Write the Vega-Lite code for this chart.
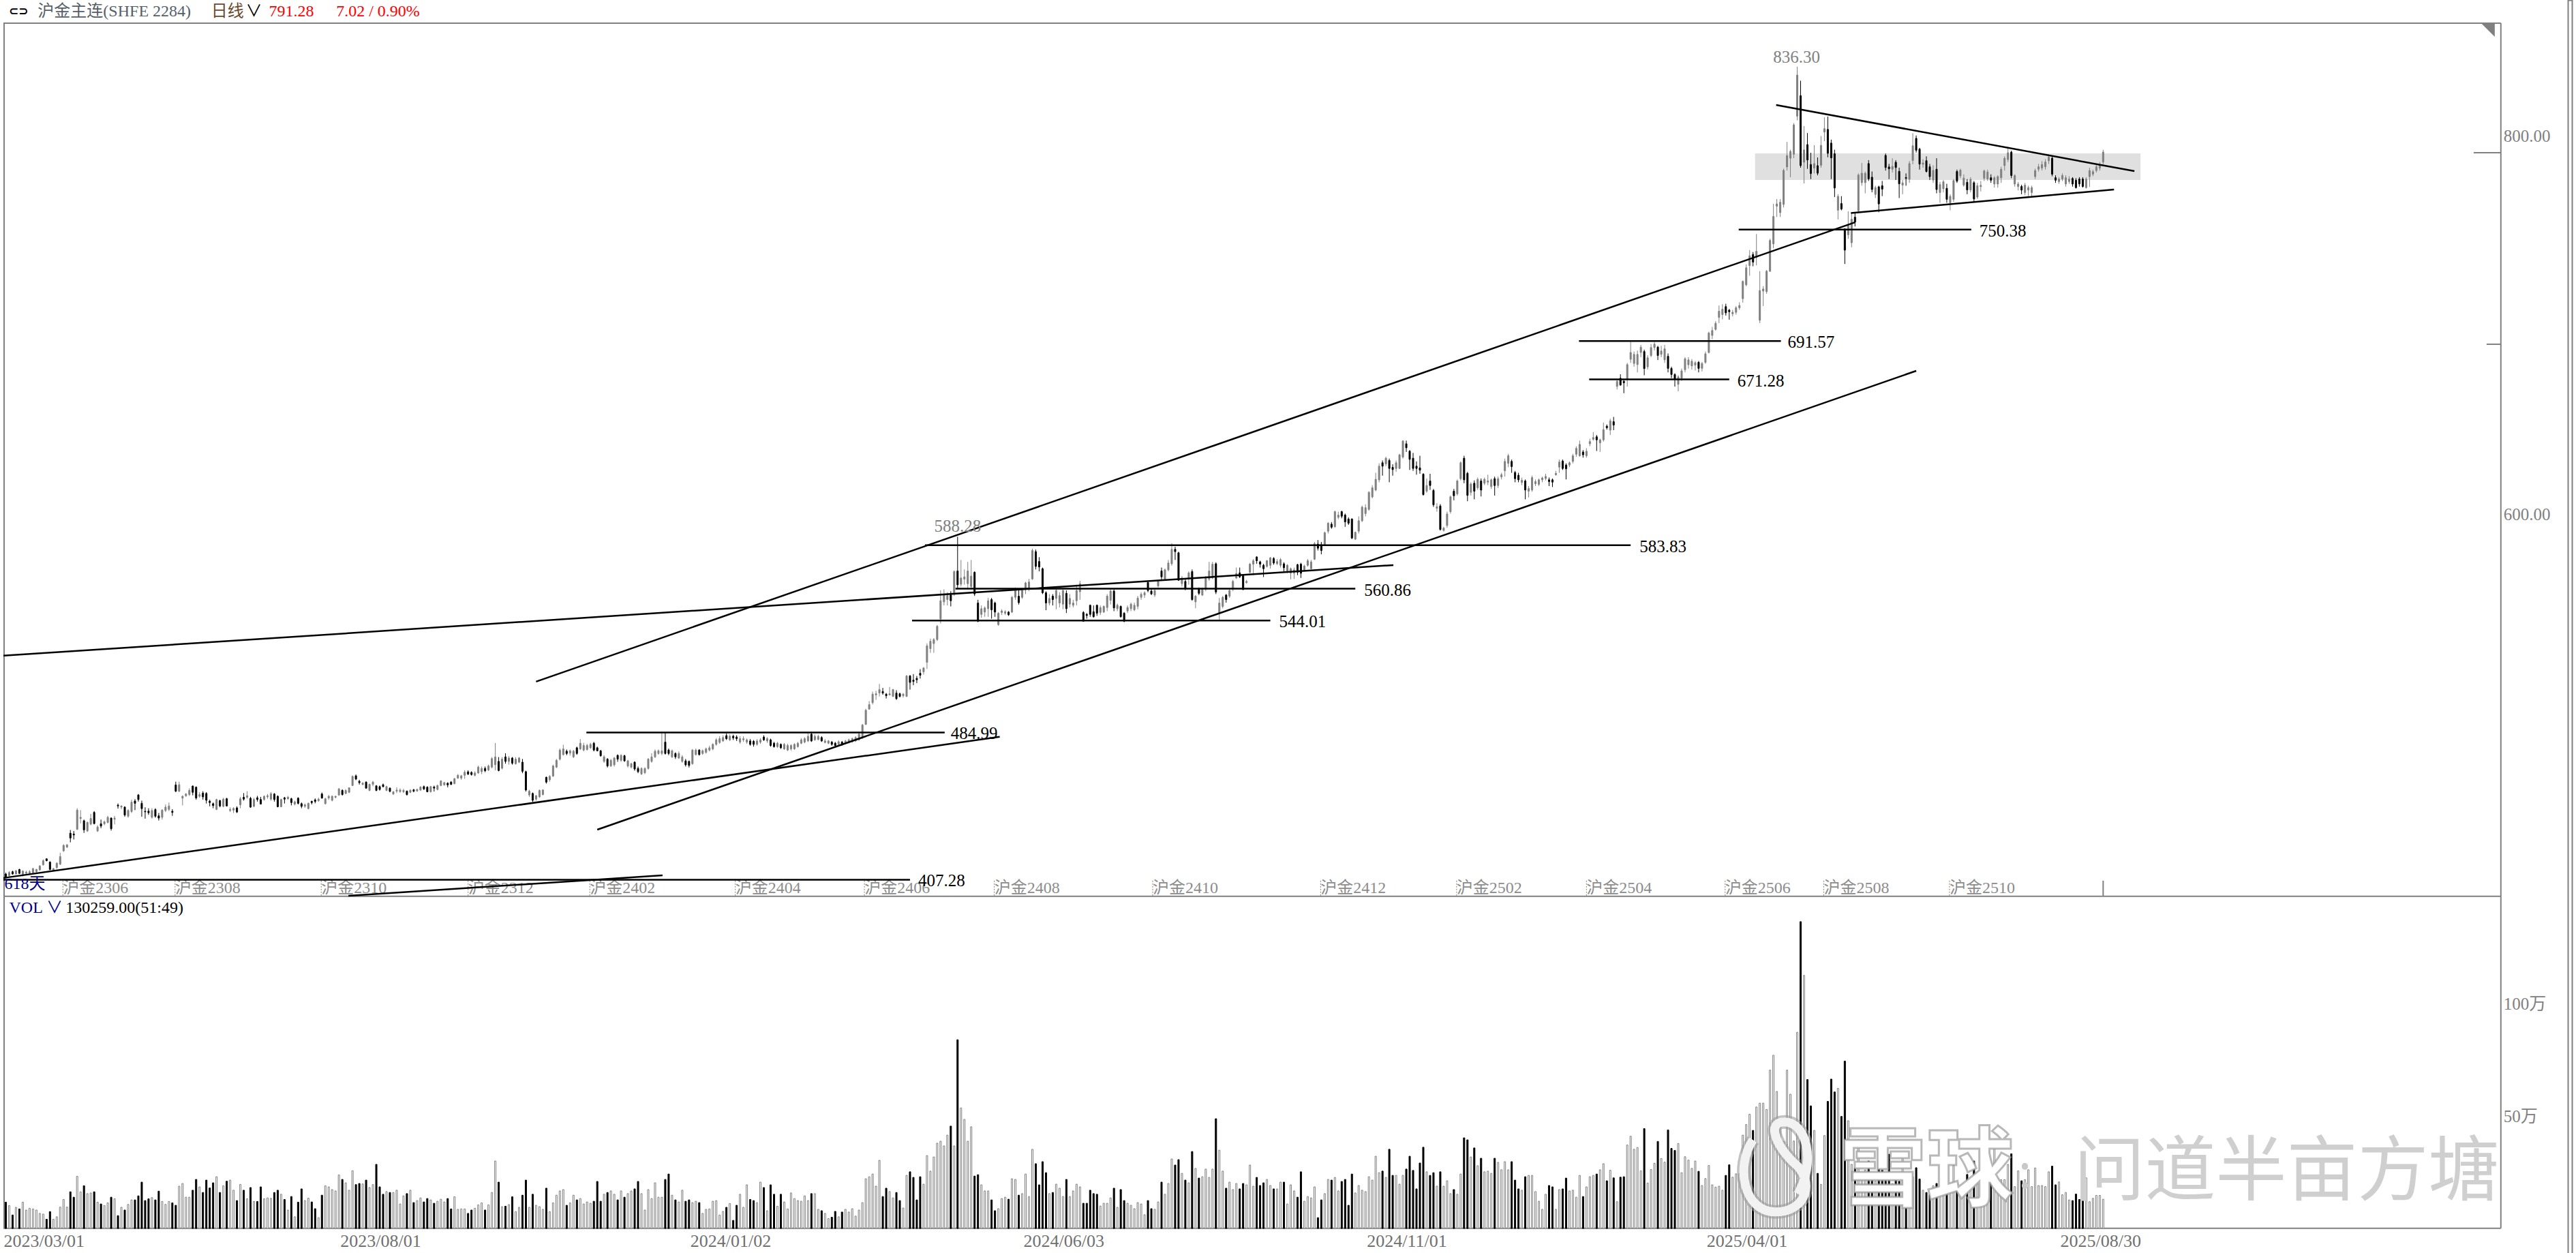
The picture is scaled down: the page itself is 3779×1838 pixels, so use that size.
{"$schema":"https://vega.github.io/schema/vega-lite/v6.json","width":3779,"height":1838,"padding":0,"autosize":"none","background":"#ffffff","config":{"view":{"stroke":null},"axis":{"disable":true},"legend":{"disable":true},"text":{"font":"Liberation Serif, Noto Sans CJK SC"}},
"datasets":{
"bars":[
{"i":0,"o":410.3,"c":408.6,"h":411,"l":408,"v":11.7},{"i":1,"o":409.5,"c":411.1,"h":411.8,"l":409,"v":10.2},{"i":2,"o":411.5,"c":410.3,"h":412,"l":410,"v":6},{"i":3,"o":410.3,"c":411.9,"h":412.5,"l":410,"v":9.4},{"i":4,"o":412.7,"c":410.6,"h":413,"l":410.4,"v":8.7},{"i":5,"o":410.1,"c":411.8,"h":412.3,"l":409,"v":11.7},{"i":6,"o":410.7,"c":411.3,"h":412,"l":410,"v":8.2},{"i":7,"o":410.7,"c":411.5,"h":412.3,"l":410,"v":9},{"i":8,"o":411,"c":413.1,"h":413.6,"l":410.4,"v":8.7},{"i":9,"o":411.5,"c":412.7,"h":413,"l":411,"v":8.2},
{"i":10,"o":412.5,"c":414.5,"h":415,"l":412,"v":6.7},{"i":11,"o":415.2,"c":417.3,"h":418,"l":414.7,"v":6.4},{"i":12,"o":418.3,"c":417.3,"h":418.6,"l":417,"v":4.1},{"i":13,"o":416.6,"c":412.7,"h":417,"l":412.3,"v":7.5},{"i":14,"o":412.3,"c":413.1,"h":413.5,"l":412,"v":4.1},{"i":15,"o":413.7,"c":416,"h":416.5,"l":413,"v":5.2},{"i":16,"o":415.5,"c":419.5,"h":421.5,"l":415,"v":9.5},{"i":17,"o":422.5,"c":425.4,"h":426,"l":422,"v":12.9},{"i":18,"o":424.5,"c":425.7,"h":426,"l":424,"v":9.5},{"i":19,"o":431.8,"c":429.3,"h":433.5,"l":427,"v":16.3},
{"i":20,"o":431.4,"c":430.9,"h":433,"l":428.5,"v":13.9},{"i":21,"o":433.9,"c":444,"h":445,"l":433.5,"v":23.2},{"i":22,"o":439.6,"c":440.2,"h":444,"l":437,"v":16.3},{"i":23,"o":438.4,"c":433.6,"h":439,"l":432,"v":19},{"i":24,"o":433,"c":437.5,"h":438,"l":432.5,"v":15.5},{"i":25,"o":436.6,"c":439.6,"h":442,"l":436,"v":15.8},{"i":26,"o":442.8,"c":436.9,"h":443.5,"l":436.5,"v":16.3},{"i":27,"o":433,"c":435.1,"h":436,"l":432.5,"v":11.7},{"i":28,"o":436.8,"c":435.6,"h":439,"l":434.5,"v":10.9},{"i":29,"o":436.8,"c":437.8,"h":438.5,"l":436,"v":10.2},
{"i":30,"o":437.5,"c":440.2,"h":441,"l":437,"v":11.4},{"i":31,"o":439.8,"c":434.2,"h":440.2,"l":433.2,"v":13.9},{"i":32,"o":439.2,"c":439.8,"h":441,"l":436.5,"v":13.2},{"i":33,"o":446.6,"c":446.2,"h":447.5,"l":444.8,"v":5.7},{"i":34,"o":445.6,"c":446.2,"h":446.5,"l":444.5,"v":9.4},{"i":35,"o":445.6,"c":441.4,"h":446,"l":440.5,"v":8.2},{"i":36,"o":440.8,"c":443.8,"h":444.5,"l":440,"v":10.7},{"i":37,"o":443.2,"c":448.2,"h":449.5,"l":442.5,"v":12.7},{"i":38,"o":448.8,"c":447.6,"h":449.8,"l":444,"v":12.7},{"i":39,"o":452,"c":449.6,"h":452.5,"l":448.5,"v":14.5},
{"i":40,"o":447.6,"c":444.8,"h":449,"l":440.5,"v":20.6},{"i":41,"o":443.4,"c":443.1,"h":445.5,"l":439.5,"v":12.4},{"i":42,"o":443.5,"c":442.6,"h":445,"l":441.5,"v":13.2},{"i":43,"o":440.2,"c":443.8,"h":445,"l":439.5,"v":13.7},{"i":44,"o":444.3,"c":440.8,"h":445,"l":440,"v":12.7},{"i":45,"o":441,"c":439.8,"h":442.5,"l":438.5,"v":16.6},{"i":46,"o":440.2,"c":444,"h":444.5,"l":439,"v":12},{"i":47,"o":443.8,"c":445.6,"h":447,"l":443,"v":10.7},{"i":48,"o":444.4,"c":446.2,"h":448,"l":443.5,"v":12},{"i":49,"o":443.4,"c":442.8,"h":444.5,"l":441,"v":11.4},
{"i":50,"o":457.3,"c":454,"h":459,"l":453.5,"v":10.3},{"i":51,"o":454,"c":457.4,"h":459,"l":453.5,"v":18.8},{"i":52,"o":450.3,"c":451.3,"h":451.8,"l":446.5,"v":20},{"i":53,"o":451.6,"c":452.5,"h":453,"l":451,"v":13.9},{"i":54,"o":452.2,"c":454.4,"h":455.5,"l":451.5,"v":13.9},{"i":55,"o":456.7,"c":453.4,"h":457,"l":451.8,"v":17},{"i":56,"o":456.1,"c":450.4,"h":456.5,"l":449.5,"v":21.8},{"i":57,"o":451.3,"c":452.2,"h":453.5,"l":450.5,"v":18.5},{"i":58,"o":453,"c":451,"h":454,"l":449.5,"v":16},{"i":59,"o":452.8,"c":449.2,"h":453.5,"l":447.5,"v":21.5},
{"i":60,"o":448.7,"c":448,"h":449.5,"l":446,"v":18},{"i":61,"o":447.4,"c":446.4,"h":448,"l":445,"v":20.3},{"i":62,"o":444.4,"c":449.6,"h":450,"l":444,"v":23},{"i":63,"o":449,"c":446.2,"h":449.5,"l":445.5,"v":16},{"i":64,"o":446,"c":449.8,"h":450.5,"l":445.5,"v":19},{"i":65,"o":450,"c":446.2,"h":450.5,"l":446,"v":21},{"i":66,"o":443.8,"c":444.4,"h":445.5,"l":443,"v":21.5},{"i":67,"o":444,"c":444.9,"h":445.5,"l":442.5,"v":17},{"i":68,"o":445.2,"c":443,"h":446,"l":442.5,"v":12.4},{"i":69,"o":446.8,"c":450,"h":451,"l":445,"v":19.6},
{"i":70,"o":450.8,"c":449.8,"h":453,"l":449,"v":17},{"i":71,"o":450.8,"c":451.6,"h":454,"l":450,"v":13.2},{"i":72,"o":450.2,"c":445.6,"h":451,"l":445.2,"v":18.2},{"i":73,"o":446,"c":449.6,"h":450.5,"l":445.5,"v":12},{"i":74,"o":450.5,"c":449.6,"h":451.5,"l":448.5,"v":12},{"i":75,"o":449.6,"c":447.2,"h":451,"l":447,"v":18.5},{"i":76,"o":449.6,"c":451.3,"h":451.8,"l":449,"v":13.2},{"i":77,"o":451,"c":451.6,"h":452.5,"l":450,"v":13.6},{"i":78,"o":449.8,"c":452.7,"h":453.5,"l":449,"v":13.4},{"i":79,"o":452.5,"c":449.6,"h":453,"l":448.5,"v":16},
{"i":80,"o":451.3,"c":445.8,"h":451.8,"l":445.5,"v":17},{"i":81,"o":445.8,"c":449.6,"h":450,"l":445.5,"v":15.2},{"i":82,"o":450.5,"c":449.8,"h":451,"l":447.5,"v":12.9},{"i":83,"o":450,"c":450.8,"h":451.5,"l":449.5,"v":8.2},{"i":84,"o":450,"c":448,"h":450.5,"l":446.5,"v":14.2},{"i":85,"o":447.2,"c":448.4,"h":449,"l":446.5,"v":5.2},{"i":86,"o":450.3,"c":447.6,"h":450.8,"l":447,"v":11.7},{"i":87,"o":447.4,"c":446,"h":448,"l":445,"v":17.6},{"i":88,"o":446,"c":446.8,"h":447.5,"l":445.2,"v":12.4},{"i":89,"o":444.8,"c":447.6,"h":448,"l":444.4,"v":13.5},
{"i":90,"o":448.6,"c":448,"h":449,"l":447,"v":11.8},{"i":91,"o":449.4,"c":448.6,"h":450.2,"l":447.6,"v":8.8},{"i":92,"o":449,"c":449.8,"h":450.5,"l":448.4,"v":4.8},{"i":93,"o":452.5,"c":450.4,"h":453.3,"l":450,"v":14.8},{"i":94,"o":447.4,"c":450,"h":450.5,"l":447,"v":19},{"i":95,"o":450.4,"c":451.3,"h":452,"l":449.5,"v":18.5},{"i":96,"o":449.2,"c":451.3,"h":451.8,"l":448.6,"v":17.3},{"i":97,"o":450.8,"c":451.3,"h":451.6,"l":450.2,"v":16.7},{"i":98,"o":452,"c":455.2,"h":455.7,"l":451.5,"v":23.8},{"i":99,"o":454.4,"c":452.2,"h":455,"l":451.7,"v":21.8},
{"i":100,"o":452.8,"c":454.4,"h":455,"l":452.4,"v":20.3},{"i":101,"o":453.4,"c":455.8,"h":456,"l":453,"v":17},{"i":102,"o":457,"c":461.8,"h":462.3,"l":456.7,"v":25.7},{"i":103,"o":462.1,"c":460.4,"h":462.8,"l":459.8,"v":19.5},{"i":104,"o":459.2,"c":458.5,"h":460,"l":457.5,"v":20},{"i":105,"o":457.6,"c":458.2,"h":458.8,"l":457,"v":19.8},{"i":106,"o":458.8,"c":455.6,"h":459.2,"l":455.2,"v":21.5},{"i":107,"o":454.4,"c":457.6,"h":458,"l":454,"v":18.2},{"i":108,"o":457.6,"c":458.8,"h":459.4,"l":456.6,"v":19.5},{"i":109,"o":456.8,"c":454.4,"h":457.2,"l":454,"v":28.5},
{"i":110,"o":456.4,"c":454.9,"h":457,"l":454.3,"v":18.5},{"i":111,"o":457.4,"c":456.4,"h":458,"l":456,"v":15.2},{"i":112,"o":454.4,"c":456.4,"h":456.9,"l":454,"v":16.4},{"i":113,"o":455.6,"c":453.9,"h":456,"l":453.4,"v":16},{"i":114,"o":452.5,"c":453.7,"h":454,"l":452,"v":16},{"i":115,"o":454,"c":454.6,"h":456,"l":453,"v":17},{"i":116,"o":453.8,"c":454.6,"h":455.5,"l":453.2,"v":10.9},{"i":117,"o":453.7,"c":454.4,"h":455.2,"l":453,"v":14.5},{"i":118,"o":454,"c":452.2,"h":454.4,"l":451.7,"v":15.5},{"i":119,"o":453.4,"c":454.5,"h":455,"l":453,"v":17},
{"i":120,"o":454.7,"c":454,"h":455.2,"l":453.4,"v":11.5},{"i":121,"o":454.1,"c":454.9,"h":455.3,"l":453.7,"v":12.4},{"i":122,"o":454.6,"c":456.2,"h":456.6,"l":454.1,"v":13.6},{"i":123,"o":456.4,"c":455.2,"h":457,"l":454.6,"v":11.8},{"i":124,"o":456.1,"c":453.7,"h":456.6,"l":453.4,"v":13.3},{"i":125,"o":453.7,"c":456.4,"h":456.8,"l":453.3,"v":12.7},{"i":126,"o":456.2,"c":455.6,"h":456.9,"l":453.8,"v":11.2},{"i":127,"o":454.9,"c":457,"h":457.4,"l":454.4,"v":12.1},{"i":128,"o":457,"c":459.4,"h":459.8,"l":456.6,"v":13},{"i":129,"o":457.3,"c":458.5,"h":459,"l":456.9,"v":11.8},
{"i":130,"o":458.2,"c":457.3,"h":458.7,"l":456,"v":13.3},{"i":131,"o":458.8,"c":457.6,"h":459.3,"l":457.2,"v":8.7},{"i":132,"o":458,"c":460.6,"h":461,"l":457.6,"v":14.1},{"i":133,"o":460.9,"c":462.4,"h":463,"l":460.5,"v":8.5},{"i":134,"o":460.9,"c":462.1,"h":462.6,"l":460,"v":8.7},{"i":135,"o":462.4,"c":464,"h":465,"l":460.5,"v":8.7},{"i":136,"o":464.2,"c":463,"h":465,"l":462.5,"v":6.7},{"i":137,"o":463.9,"c":462.8,"h":464.5,"l":462.2,"v":8.2},{"i":138,"o":462.4,"c":463.6,"h":464.5,"l":461.8,"v":9},{"i":139,"o":463.6,"c":466.7,"h":467.5,"l":463.2,"v":10.5},
{"i":140,"o":464.3,"c":466,"h":467,"l":463,"v":11.4},{"i":141,"o":466,"c":464.8,"h":467,"l":464,"v":8.2},{"i":142,"o":465.2,"c":467.3,"h":468,"l":464.6,"v":10.5},{"i":143,"o":466.7,"c":471.2,"h":472,"l":466,"v":16},{"i":144,"o":467.9,"c":472.1,"h":479.4,"l":465,"v":30},{"i":145,"o":469.7,"c":464.9,"h":472,"l":464.5,"v":20.6},{"i":146,"o":466.1,"c":470.9,"h":472,"l":465.5,"v":9.7},{"i":147,"o":472.1,"c":469.7,"h":474,"l":468.5,"v":9.9},{"i":148,"o":469.7,"c":471.5,"h":472.5,"l":468,"v":10.6},{"i":149,"o":471.5,"c":468.8,"h":472,"l":468,"v":14.1},
{"i":150,"o":468.5,"c":470.9,"h":472,"l":468,"v":7.5},{"i":151,"o":469.3,"c":471.5,"h":472,"l":468.8,"v":9.4},{"i":152,"o":469.3,"c":464.5,"h":471,"l":463.5,"v":14.8},{"i":153,"o":464.3,"c":454.6,"h":464.8,"l":453.8,"v":21.5},{"i":154,"o":452,"c":454,"h":454.7,"l":451,"v":9.4},{"i":155,"o":452.8,"c":449.2,"h":453.3,"l":448.3,"v":15.2},{"i":156,"o":449.8,"c":451.6,"h":452,"l":449,"v":10.3},{"i":157,"o":451,"c":454.4,"h":454.9,"l":450.5,"v":9.7},{"i":158,"o":452.2,"c":454.6,"h":455,"l":451.8,"v":8.5},{"i":159,"o":461.3,"c":458.8,"h":461.7,"l":458,"v":17.9},
{"i":160,"o":460,"c":461.8,"h":462.5,"l":459,"v":7.5},{"i":161,"o":462,"c":467.3,"h":468,"l":461.5,"v":11.4},{"i":162,"o":466.7,"c":470.3,"h":471,"l":466.2,"v":14.8},{"i":163,"o":470.9,"c":475.7,"h":476.5,"l":470.2,"v":16.7},{"i":164,"o":473.3,"c":476.3,"h":478.5,"l":472.8,"v":17.3},{"i":165,"o":475.1,"c":473.9,"h":476,"l":473,"v":10.3},{"i":166,"o":474.1,"c":475.3,"h":476,"l":472.8,"v":11.4},{"i":167,"o":472.1,"c":475.1,"h":475.8,"l":471.5,"v":14.8},{"i":168,"o":476.9,"c":473.9,"h":477.5,"l":473.2,"v":12.7},{"i":169,"o":476.3,"c":479.3,"h":481.5,"l":475.8,"v":13.3},
{"i":170,"o":475.7,"c":478.1,"h":479.5,"l":475,"v":10.9},{"i":171,"o":476,"c":478.1,"h":479,"l":475.4,"v":11.8},{"i":172,"o":476.9,"c":478.7,"h":479.5,"l":476.3,"v":11.2},{"i":173,"o":479.3,"c":475.7,"h":480,"l":475,"v":12.1},{"i":174,"o":476.9,"c":475.3,"h":477.5,"l":475,"v":20.9},{"i":175,"o":475.3,"c":472.7,"h":475.8,"l":472.2,"v":12.1},{"i":176,"o":469.7,"c":472.1,"h":473,"l":469,"v":15.2},{"i":177,"o":470.9,"c":467.3,"h":471.5,"l":466.5,"v":16},{"i":178,"o":467.3,"c":470.3,"h":471,"l":466.8,"v":16.7},{"i":179,"o":467.9,"c":471.5,"h":472,"l":467,"v":15.2},
{"i":180,"o":472.9,"c":470.9,"h":473.4,"l":469.5,"v":12.7},{"i":181,"o":470.3,"c":472.9,"h":473.5,"l":469.5,"v":16.7},{"i":182,"o":472.7,"c":470,"h":473.2,"l":469.5,"v":13.9},{"i":183,"o":467.3,"c":470,"h":470.5,"l":466.5,"v":15.5},{"i":184,"o":466.7,"c":468.5,"h":469,"l":466,"v":16.7},{"i":185,"o":469.3,"c":465.7,"h":469.8,"l":464.8,"v":17.6},{"i":186,"o":466,"c":464.3,"h":467,"l":463.5,"v":20.9},{"i":187,"o":463.1,"c":466,"h":466.6,"l":462.5,"v":15.5},{"i":188,"o":463.7,"c":466,"h":466.6,"l":463,"v":8.2},{"i":189,"o":466,"c":470.9,"h":471.5,"l":465.4,"v":17.3},
{"i":190,"o":469.7,"c":472.1,"h":474,"l":469,"v":13.3},{"i":191,"o":472.1,"c":475.1,"h":476,"l":471.5,"v":20.3},{"i":192,"o":473.9,"c":475.3,"h":476,"l":473.2,"v":13.9},{"i":193,"o":473.9,"c":475.3,"h":485.5,"l":473,"v":13.9},{"i":194,"o":479.9,"c":473.9,"h":485,"l":473.3,"v":21.8},{"i":195,"o":475.7,"c":473.9,"h":476.5,"l":473,"v":24.2},{"i":196,"o":472.1,"c":475.3,"h":476,"l":471.5,"v":14.8},{"i":197,"o":473.9,"c":472.1,"h":474.5,"l":471,"v":12.7},{"i":198,"o":471.5,"c":473.9,"h":475,"l":471,"v":11.8},{"i":199,"o":469.7,"c":472.1,"h":473,"l":469,"v":17},
{"i":200,"o":470,"c":467.9,"h":471,"l":467,"v":12.1},{"i":201,"o":469.7,"c":467.6,"h":470.2,"l":466.5,"v":12.7},{"i":202,"o":468.5,"c":475.7,"h":476.2,"l":468,"v":11.5},{"i":203,"o":473.3,"c":475.7,"h":476.5,"l":472.8,"v":12.1},{"i":204,"o":475.7,"c":473.3,"h":476.2,"l":472.8,"v":11.5},{"i":205,"o":473.9,"c":475.3,"h":476,"l":473.2,"v":6.7},{"i":206,"o":474.5,"c":476.3,"h":477,"l":473.8,"v":8.5},{"i":207,"o":475.7,"c":476.9,"h":478,"l":475,"v":8.7},{"i":208,"o":476.3,"c":478.7,"h":479.3,"l":475.6,"v":12.1},{"i":209,"o":478.7,"c":481.1,"h":482,"l":478,"v":12.4},
{"i":210,"o":479.7,"c":481.7,"h":483,"l":479,"v":6},{"i":211,"o":480.5,"c":482.3,"h":483.5,"l":480,"v":7.6},{"i":212,"o":483.3,"c":481.7,"h":484.4,"l":481,"v":9.4},{"i":213,"o":481.1,"c":483,"h":484,"l":480.5,"v":11.1},{"i":214,"o":483,"c":482.1,"h":483.8,"l":481,"v":3.6},{"i":215,"o":482.6,"c":481.7,"h":483.5,"l":480.5,"v":10.3},{"i":216,"o":479.9,"c":481.7,"h":483,"l":479,"v":15.2},{"i":217,"o":481.1,"c":481.7,"h":483,"l":480,"v":9.4},{"i":218,"o":479.9,"c":481.1,"h":481.8,"l":479,"v":19.4},{"i":219,"o":480.5,"c":478.7,"h":481.5,"l":478,"v":12.9},
{"i":220,"o":480.3,"c":478.7,"h":481,"l":477.5,"v":12.4},{"i":221,"o":478.7,"c":480.5,"h":481.5,"l":478,"v":11.5},{"i":222,"o":479.9,"c":481.1,"h":482,"l":479,"v":20.6},{"i":223,"o":482.6,"c":481.1,"h":483.5,"l":480.5,"v":18.2},{"i":224,"o":480.5,"c":481.7,"h":482.5,"l":479.5,"v":7.9},{"i":225,"o":481.1,"c":478.1,"h":481.7,"l":477.5,"v":19.4},{"i":226,"o":479.3,"c":477.5,"h":480,"l":477,"v":15.2},{"i":227,"o":477.5,"c":479.3,"h":480,"l":476.8,"v":9.9},{"i":228,"o":478.7,"c":476.9,"h":479.2,"l":476.3,"v":15.2},{"i":229,"o":476.3,"c":478.7,"h":479.4,"l":475.8,"v":11.8},
{"i":230,"o":475.7,"c":478.1,"h":479,"l":475.2,"v":8.7},{"i":231,"o":476.3,"c":478.1,"h":478.8,"l":475.4,"v":15.8},{"i":232,"o":476.3,"c":478.7,"h":479.3,"l":475.8,"v":13.3},{"i":233,"o":477.5,"c":479.3,"h":480,"l":477,"v":12.4},{"i":234,"o":479.3,"c":481.1,"h":482,"l":478.8,"v":12.1},{"i":235,"o":479.9,"c":481.7,"h":482.5,"l":479.3,"v":14.5},{"i":236,"o":480.5,"c":482.9,"h":484.5,"l":480,"v":12.4},{"i":237,"o":484.1,"c":480.5,"h":485.2,"l":480,"v":15.5},{"i":238,"o":481.1,"c":482.9,"h":484,"l":480.6,"v":15.5},{"i":239,"o":481.3,"c":482.9,"h":483.8,"l":480.8,"v":8.5},
{"i":240,"o":482.3,"c":480.5,"h":483,"l":480,"v":7.9},{"i":241,"o":479.7,"c":480.5,"h":481.5,"l":479.2,"v":6.7},{"i":242,"o":479.3,"c":480.5,"h":481,"l":478.8,"v":4.4},{"i":243,"o":479.9,"c":478.7,"h":480.5,"l":478,"v":5},{"i":244,"o":479.3,"c":478.1,"h":480,"l":477.5,"v":7.6},{"i":245,"o":478.7,"c":480.1,"h":480.8,"l":478.2,"v":5.2},{"i":246,"o":479.9,"c":478.7,"h":480.5,"l":478,"v":7.3},{"i":247,"o":479.3,"c":480.5,"h":481,"l":478.8,"v":8.5},{"i":248,"o":479.7,"c":481.1,"h":481.8,"l":479.2,"v":7.3},{"i":249,"o":480.1,"c":481.7,"h":482.3,"l":479.6,"v":8.8},
{"i":250,"o":480.5,"c":482.3,"h":483,"l":480,"v":5.5},{"i":251,"o":481.1,"c":484.1,"h":484.8,"l":480.6,"v":8.2},{"i":252,"o":482.3,"c":488.9,"h":489.5,"l":481.5,"v":11.5},{"i":253,"o":489.2,"c":496.7,"h":497.5,"l":489,"v":22.1},{"i":254,"o":497.3,"c":499.7,"h":501.5,"l":497,"v":23},{"i":255,"o":500.7,"c":505.2,"h":506.5,"l":499.8,"v":24.2},{"i":256,"o":504.8,"c":505.4,"h":507,"l":502.2,"v":18.8},{"i":257,"o":505.8,"c":507.6,"h":510.6,"l":504,"v":30.3},{"i":258,"o":506.6,"c":505.8,"h":508.5,"l":504.9,"v":14.2},{"i":259,"o":505.2,"c":504.4,"h":505.8,"l":502.9,"v":17.9},
{"i":260,"o":504.8,"c":505.4,"h":509,"l":504.5,"v":16.4},{"i":261,"o":504,"c":507.6,"h":508,"l":503.7,"v":13.6},{"i":262,"o":505.8,"c":502.8,"h":507.3,"l":502.2,"v":16},{"i":263,"o":505.4,"c":504,"h":506,"l":503.5,"v":12.4},{"i":264,"o":504.4,"c":505.2,"h":505.8,"l":503.4,"v":9.1},{"i":265,"o":504,"c":514.8,"h":515.3,"l":503.7,"v":23.6},{"i":266,"o":514.8,"c":511.4,"h":515.3,"l":507.6,"v":25.2},{"i":267,"o":512.6,"c":511.9,"h":515.8,"l":509.9,"v":22.7},{"i":268,"o":513.5,"c":512.8,"h":514.8,"l":511,"v":12.7},{"i":269,"o":516.2,"c":515.2,"h":518.4,"l":513.4,"v":23},
{"i":270,"o":517,"c":519,"h":519.5,"l":515.5,"v":19.7},{"i":271,"o":522,"c":530.7,"h":532,"l":518.5,"v":32.4},{"i":272,"o":529.2,"c":533.1,"h":534.5,"l":527,"v":25.5},{"i":273,"o":531.9,"c":534,"h":534.8,"l":527,"v":31.8},{"i":274,"o":534,"c":541,"h":541.7,"l":533.2,"v":37.9},{"i":275,"o":544.9,"c":554.5,"h":560,"l":542.5,"v":38.8},{"i":276,"o":553.9,"c":557.5,"h":560.5,"l":552,"v":36.7},{"i":277,"o":555.1,"c":557.2,"h":559,"l":552,"v":41.5},{"i":278,"o":557.5,"c":554.5,"h":559.5,"l":551.5,"v":45.5},{"i":279,"o":557.9,"c":569.9,"h":570.5,"l":557,"v":36.7},
{"i":280,"o":570.2,"c":562.9,"h":588.3,"l":561,"v":83.9},{"i":281,"o":563.2,"c":566.5,"h":576,"l":562,"v":53.6},{"i":282,"o":565.9,"c":567.1,"h":571,"l":563,"v":48.5},{"i":283,"o":563.5,"c":570.2,"h":575,"l":561,"v":38.8},{"i":284,"o":562,"c":567.5,"h":576,"l":560.5,"v":45.2},{"i":285,"o":569.5,"c":558.1,"h":570,"l":557,"v":23.3},{"i":286,"o":553.3,"c":543.7,"h":555,"l":543.2,"v":23.9},{"i":287,"o":547.3,"c":550.3,"h":552,"l":545.5,"v":19.4},{"i":288,"o":548.5,"c":550.7,"h":551.5,"l":546,"v":16.7},{"i":289,"o":550.3,"c":554.5,"h":556,"l":546,"v":16.7},
{"i":290,"o":555.1,"c":549.7,"h":556,"l":545,"v":12.7},{"i":291,"o":553.3,"c":548.5,"h":554,"l":546,"v":7.9},{"i":292,"o":541.9,"c":547.9,"h":548.5,"l":541.3,"v":8.8},{"i":293,"o":548.3,"c":549.1,"h":550,"l":547,"v":13.3},{"i":294,"o":547.9,"c":548.7,"h":549.5,"l":547,"v":13.9},{"i":295,"o":548.5,"c":547.1,"h":549,"l":546.5,"v":13},{"i":296,"o":548.5,"c":556.3,"h":557,"l":548,"v":22.1},{"i":297,"o":556.3,"c":560.5,"h":561.5,"l":555,"v":21.8},{"i":298,"o":556.9,"c":553.5,"h":560,"l":552.5,"v":14.8},{"i":299,"o":556.3,"c":559.9,"h":561,"l":555.5,"v":15.5},
{"i":300,"o":560.5,"c":563.9,"h":564.5,"l":558,"v":24.2},{"i":301,"o":560.5,"c":564.4,"h":566,"l":559.5,"v":14.2},{"i":302,"o":566,"c":581,"h":582,"l":565.5,"v":35.2},{"i":303,"o":580.4,"c":572.6,"h":581.5,"l":571,"v":28.8},{"i":304,"o":575.2,"c":572.3,"h":577.5,"l":570,"v":19.4},{"i":305,"o":571.4,"c":558.7,"h":572,"l":558,"v":29.7},{"i":306,"o":558.7,"c":553.3,"h":559.5,"l":549.5,"v":24.8},{"i":307,"o":553.3,"c":555.7,"h":558,"l":552,"v":15.5},{"i":308,"o":556.9,"c":555.1,"h":558,"l":552,"v":16},{"i":309,"o":555.7,"c":559.9,"h":561,"l":550,"v":19.7},
{"i":310,"o":553.3,"c":557.2,"h":559,"l":551,"v":17.9},{"i":311,"o":552.7,"c":559.9,"h":560.5,"l":550,"v":14.2},{"i":312,"o":558.4,"c":550.3,"h":560,"l":548,"v":21.8},{"i":313,"o":552.7,"c":555.7,"h":558,"l":551,"v":14.2},{"i":314,"o":552.1,"c":553.3,"h":555,"l":551,"v":16.7},{"i":315,"o":554.5,"c":559.9,"h":563,"l":552,"v":19.7},{"i":316,"o":559.3,"c":563.5,"h":565,"l":555,"v":18.5},{"i":317,"o":548.3,"c":543.7,"h":549,"l":543.5,"v":11.2},{"i":318,"o":547.3,"c":546.7,"h":548,"l":545,"v":11.2},{"i":319,"o":552.1,"c":547.3,"h":552.5,"l":546,"v":17},
{"i":320,"o":548.7,"c":546.1,"h":552,"l":545.5,"v":15.5},{"i":321,"o":552.1,"c":547.9,"h":552.5,"l":546.5,"v":15.2},{"i":322,"o":548.3,"c":550.9,"h":552,"l":547,"v":10},{"i":323,"o":548.5,"c":551.5,"h":552,"l":548,"v":11.2},{"i":324,"o":550.9,"c":556.9,"h":558,"l":549,"v":11.2},{"i":325,"o":554.7,"c":559.6,"h":561,"l":552.5,"v":13.6},{"i":326,"o":559.6,"c":550.7,"h":560.5,"l":549,"v":17.9},{"i":327,"o":550.3,"c":552.1,"h":553,"l":549,"v":9.4},{"i":328,"o":551.5,"c":546.1,"h":552,"l":545.5,"v":17.3},{"i":329,"o":547.9,"c":543.7,"h":548.5,"l":543.2,"v":12.4},
{"i":330,"o":549.1,"c":550.9,"h":552,"l":548,"v":11.2},{"i":331,"o":550.3,"c":552.7,"h":553.5,"l":549,"v":10.3},{"i":332,"o":549.7,"c":552.1,"h":553.5,"l":549,"v":8.8},{"i":333,"o":551.5,"c":555.9,"h":557,"l":550,"v":11.5},{"i":334,"o":556.3,"c":557.9,"h":559,"l":555,"v":10.9},{"i":335,"o":557.5,"c":558.7,"h":559.5,"l":556,"v":6.1},{"i":336,"o":564.1,"c":559.9,"h":565,"l":559,"v":12.4},{"i":337,"o":559.6,"c":558.1,"h":561,"l":557.5,"v":8.8},{"i":338,"o":557.5,"c":559.9,"h":561,"l":556.5,"v":8.5},{"i":339,"o":562.3,"c":564.7,"h":565.5,"l":561.5,"v":11.8},
{"i":340,"o":570.2,"c":567.1,"h":572,"l":565.5,"v":20.6},{"i":341,"o":565.9,"c":570.8,"h":571.5,"l":565,"v":15.2},{"i":342,"o":570.8,"c":574.4,"h":576,"l":570,"v":20},{"i":343,"o":574,"c":581.6,"h":584.8,"l":573,"v":30.9},{"i":344,"o":581.6,"c":580.4,"h":583,"l":576,"v":28.2},{"i":345,"o":579.8,"c":565.3,"h":580.3,"l":565,"v":30.6},{"i":346,"o":563.5,"c":566.5,"h":567.5,"l":562,"v":24.5},{"i":347,"o":564.7,"c":561.1,"h":566,"l":560,"v":21.5},{"i":348,"o":565.9,"c":569.2,"h":570,"l":563,"v":20.3},{"i":349,"o":569.9,"c":555.1,"h":571,"l":554.5,"v":34.2},
{"i":350,"o":553.9,"c":556.9,"h":557.5,"l":550.5,"v":26.7},{"i":351,"o":560.5,"c":558.4,"h":561.5,"l":557.5,"v":22.4},{"i":352,"o":557.5,"c":560.5,"h":561.5,"l":557,"v":23},{"i":353,"o":560.5,"c":566.5,"h":567.5,"l":559.5,"v":26.4},{"i":354,"o":565.9,"c":570.2,"h":575,"l":565,"v":22.7},{"i":355,"o":566.5,"c":573.8,"h":575,"l":566,"v":26.4},{"i":356,"o":574,"c":559.1,"h":574.8,"l":558,"v":48.8},{"i":357,"o":547.9,"c":553.3,"h":556,"l":544.5,"v":34.8},{"i":358,"o":551.5,"c":556.3,"h":557,"l":550.5,"v":25.5},{"i":359,"o":557.5,"c":555.1,"h":558,"l":553.5,"v":17.9},
{"i":360,"o":556.9,"c":559.9,"h":561,"l":556,"v":20.6},{"i":361,"o":560.5,"c":564.7,"h":565.5,"l":559.5,"v":17.3},{"i":362,"o":566.5,"c":568.9,"h":572,"l":566,"v":20},{"i":363,"o":569.2,"c":567.1,"h":572,"l":566.5,"v":17.6},{"i":364,"o":567.7,"c":560.5,"h":568,"l":560,"v":20},{"i":365,"o":564.1,"c":564.7,"h":565.5,"l":563.5,"v":19.4},{"i":366,"o":569.5,"c":573.8,"h":574.5,"l":569,"v":28.2},{"i":367,"o":573.8,"c":575.6,"h":576.5,"l":568,"v":18.8},{"i":368,"o":577.6,"c":575.6,"h":578,"l":574,"v":22.7},{"i":369,"o":575,"c":573.8,"h":575.6,"l":572,"v":19.1},
{"i":370,"o":573.2,"c":571.4,"h":574,"l":567,"v":20.3},{"i":371,"o":572.6,"c":575.6,"h":576,"l":572,"v":21.8},{"i":372,"o":573.2,"c":577.1,"h":577.6,"l":571.5,"v":19.1},{"i":373,"o":576.8,"c":574.4,"h":577.5,"l":573.5,"v":17.6},{"i":374,"o":574,"c":575.2,"h":576.5,"l":573.4,"v":17.6},{"i":375,"o":573.2,"c":576.2,"h":577,"l":572,"v":20.6},{"i":376,"o":574,"c":571.9,"h":574.8,"l":570,"v":20.6},{"i":377,"o":569.5,"c":573.2,"h":573.8,"l":569,"v":10.9},{"i":378,"o":569,"c":571.4,"h":572,"l":565.8,"v":19.4},{"i":379,"o":569,"c":570.8,"h":572,"l":566,"v":16.7},
{"i":380,"o":573.5,"c":569.5,"h":574,"l":568,"v":13.9},{"i":381,"o":573.8,"c":569,"h":574.5,"l":566.5,"v":25.2},{"i":382,"o":570.8,"c":572.8,"h":573.5,"l":570,"v":12.1},{"i":383,"o":573.2,"c":575.6,"h":576.5,"l":572.5,"v":14.2},{"i":384,"o":571.4,"c":575,"h":576,"l":571,"v":13.6},{"i":385,"o":576.4,"c":584.6,"h":585.5,"l":576,"v":18.5},{"i":386,"o":584.4,"c":582.2,"h":586.5,"l":581,"v":4.8},{"i":387,"o":584,"c":581,"h":585.5,"l":579,"v":12.7},{"i":388,"o":584,"c":590.4,"h":591,"l":583.5,"v":15.5},{"i":389,"o":591.2,"c":595.4,"h":596,"l":590,"v":21.8},
{"i":390,"o":594.9,"c":593.3,"h":596,"l":592.5,"v":21.5},{"i":391,"o":593.6,"c":601.5,"h":602,"l":593,"v":22.7},{"i":392,"o":598.5,"c":599.7,"h":601.5,"l":597.5,"v":16.7},{"i":393,"o":601.5,"c":599.1,"h":602,"l":598,"v":20.9},{"i":394,"o":599.7,"c":596.1,"h":600.5,"l":593.5,"v":21.8},{"i":395,"o":597.6,"c":595.4,"h":598.5,"l":594.5,"v":10.3},{"i":396,"o":597.6,"c":587.6,"h":598,"l":587,"v":24.2},{"i":397,"o":587,"c":590.6,"h":591,"l":586.5,"v":15.8},{"i":398,"o":591.2,"c":596.7,"h":599,"l":590,"v":19.1},{"i":399,"o":596.7,"c":603.9,"h":604.7,"l":596,"v":17},
{"i":400,"o":600.5,"c":603.6,"h":605.4,"l":599,"v":16.4},{"i":401,"o":602.7,"c":611.7,"h":612.3,"l":602,"v":23},{"i":402,"o":609.3,"c":614.1,"h":615.5,"l":608.5,"v":21.5},{"i":403,"o":612.9,"c":618.6,"h":622,"l":612.3,"v":32.1},{"i":404,"o":618.3,"c":625.5,"h":627,"l":617,"v":24.8},{"i":405,"o":627.3,"c":625.5,"h":628.5,"l":620.5,"v":25.5},{"i":406,"o":626.7,"c":629.7,"h":630.5,"l":625.5,"v":22.7},{"i":407,"o":628.5,"c":624.3,"h":629.5,"l":617,"v":35.2},{"i":408,"o":624.9,"c":623.7,"h":626.5,"l":620.5,"v":23.6},{"i":409,"o":624.3,"c":627.3,"h":628.5,"l":622.5,"v":23.6},
{"i":410,"o":624.3,"c":631.5,"h":632,"l":624,"v":19.7},{"i":411,"o":630.3,"c":638.8,"h":639.2,"l":629.5,"v":23.6},{"i":412,"o":637.3,"c":635.2,"h":639,"l":633,"v":26.4},{"i":413,"o":633.4,"c":629.1,"h":634,"l":623.5,"v":32.1},{"i":414,"o":629.7,"c":624.3,"h":632.5,"l":623,"v":25.8},{"i":415,"o":625.5,"c":624.3,"h":628,"l":621,"v":17.6},{"i":416,"o":624.6,"c":623.4,"h":631,"l":621.5,"v":29.1},{"i":417,"o":621.3,"c":610.5,"h":621.8,"l":610,"v":36.1},{"i":418,"o":612.3,"c":615.3,"h":619,"l":611.5,"v":25.2},{"i":419,"o":617.7,"c":615.3,"h":621.5,"l":613,"v":23.6},
{"i":420,"o":612.7,"c":605.1,"h":613.5,"l":604,"v":24.8},{"i":421,"o":603.3,"c":604.1,"h":606,"l":601.5,"v":18.8},{"i":422,"o":604.5,"c":592.1,"h":605.5,"l":591.5,"v":25.2},{"i":423,"o":591.6,"c":592.8,"h":593.5,"l":591,"v":18.8},{"i":424,"o":594.2,"c":600.3,"h":601.5,"l":593,"v":21.2},{"i":425,"o":601.5,"c":609.3,"h":610,"l":600.5,"v":15.5},{"i":426,"o":612.3,"c":609.9,"h":613.5,"l":607.5,"v":17.3},{"i":427,"o":610.9,"c":617.7,"h":618.5,"l":610,"v":15.2},{"i":428,"o":618.9,"c":627.3,"h":628,"l":618,"v":24.2},{"i":429,"o":629.7,"c":618.3,"h":631,"l":616.5,"v":40.3},
{"i":430,"o":621.7,"c":610.1,"h":622.5,"l":607,"v":39.4},{"i":431,"o":611.7,"c":616.1,"h":617,"l":610,"v":31.8},{"i":432,"o":616.5,"c":612.3,"h":618,"l":608,"v":35.8},{"i":433,"o":614.1,"c":618.6,"h":619.5,"l":613,"v":27.9},{"i":434,"o":617.7,"c":612.9,"h":619,"l":609.5,"v":31.2},{"i":435,"o":616.5,"c":618.6,"h":619.5,"l":615.5,"v":25.2},{"i":436,"o":617.1,"c":617.7,"h":621,"l":615.5,"v":25.5},{"i":437,"o":614.7,"c":618.3,"h":619,"l":613.5,"v":24.5},{"i":438,"o":618.9,"c":615.3,"h":620,"l":610,"v":31.2},{"i":439,"o":615.3,"c":618.9,"h":620,"l":614,"v":29.4},
{"i":440,"o":619.8,"c":621,"h":622,"l":618.5,"v":26.1},{"i":441,"o":623.1,"c":628,"h":629.5,"l":620,"v":29.7},{"i":442,"o":627,"c":631,"h":632,"l":625,"v":26.1},{"i":443,"o":628,"c":625.3,"h":629,"l":622,"v":29.7},{"i":444,"o":622.2,"c":618.9,"h":623,"l":617,"v":21.5},{"i":445,"o":620.7,"c":618.3,"h":622,"l":617,"v":17.6},{"i":446,"o":616.9,"c":618.1,"h":619.5,"l":615.5,"v":17},{"i":447,"o":617.7,"c":612.9,"h":618.5,"l":608,"v":23},{"i":448,"o":612.3,"c":613.7,"h":615,"l":609,"v":23.6},{"i":449,"o":612.9,"c":619.5,"h":620.5,"l":612,"v":23.6},
{"i":450,"o":616.2,"c":617.4,"h":618.5,"l":615,"v":16.4},{"i":451,"o":615.9,"c":618.3,"h":619,"l":615,"v":12.1},{"i":452,"o":618.3,"c":619.3,"h":620,"l":617,"v":8.5},{"i":453,"o":619,"c":620.1,"h":621.5,"l":618,"v":15.2},{"i":454,"o":618.3,"c":617.4,"h":619.5,"l":615,"v":19.1},{"i":455,"o":618.3,"c":617.1,"h":619,"l":614.5,"v":18.5},{"i":456,"o":621,"c":621.7,"h":623,"l":620.5,"v":8.5},{"i":457,"o":625,"c":627.7,"h":629,"l":622,"v":17.3},{"i":458,"o":628.2,"c":624.3,"h":629,"l":623.5,"v":17.6},{"i":459,"o":626.1,"c":624.1,"h":627,"l":618.5,"v":22.4},
{"i":460,"o":626.1,"c":627.3,"h":628,"l":625,"v":16.7},{"i":461,"o":628,"c":631,"h":632,"l":627,"v":17},{"i":462,"o":631.8,"c":634.9,"h":636,"l":630.5,"v":13.9},{"i":463,"o":631,"c":637,"h":639,"l":630.5,"v":23.6},{"i":464,"o":633,"c":631.5,"h":634,"l":630,"v":14.2},{"i":465,"o":631,"c":633.4,"h":635,"l":630,"v":18.5},{"i":466,"o":637.3,"c":638.5,"h":640,"l":636,"v":23},{"i":467,"o":639.7,"c":640.6,"h":643.5,"l":639,"v":23.6},{"i":468,"o":641,"c":639.4,"h":642,"l":633.5,"v":24.2},{"i":469,"o":637.8,"c":639.4,"h":640,"l":633,"v":26.1},
{"i":470,"o":639.4,"c":644.8,"h":648.5,"l":638.5,"v":28.8},{"i":471,"o":646.6,"c":645.8,"h":647.5,"l":644.8,"v":21.2},{"i":472,"o":644.5,"c":649.4,"h":650.5,"l":642,"v":25.9},{"i":473,"o":649,"c":647.2,"h":651.5,"l":644.5,"v":22.5},{"i":474,"o":667.6,"c":670.3,"h":671.5,"l":666,"v":11.9},{"i":475,"o":671.9,"c":668.3,"h":674,"l":668,"v":22.8},{"i":476,"o":670.3,"c":669.5,"h":671,"l":664,"v":23},{"i":477,"o":671.3,"c":679.1,"h":680,"l":667.5,"v":37.1},{"i":478,"o":681.9,"c":685.5,"h":691.5,"l":680,"v":41},{"i":479,"o":679.7,"c":684.5,"h":686,"l":678,"v":35.2},
{"i":480,"o":679.1,"c":684.5,"h":686.5,"l":675,"v":36},{"i":481,"o":685.5,"c":688.3,"h":689.5,"l":683,"v":25.6},{"i":482,"o":686,"c":677,"h":687,"l":673.5,"v":44.4},{"i":483,"o":677.9,"c":682.7,"h":684,"l":676.5,"v":20.2},{"i":484,"o":683.9,"c":688.1,"h":690,"l":683,"v":26.2},{"i":485,"o":688.1,"c":689.9,"h":691,"l":686.5,"v":29},{"i":486,"o":688.3,"c":683.9,"h":689,"l":681.5,"v":38.7},{"i":487,"o":684.5,"c":686.3,"h":689,"l":683,"v":31.1},{"i":488,"o":681.6,"c":687.4,"h":689.5,"l":680,"v":29.5},{"i":489,"o":683.5,"c":677.1,"h":685,"l":675,"v":43.8},
{"i":490,"o":677.1,"c":673.9,"h":678,"l":672,"v":35.6},{"i":491,"o":673.9,"c":671.3,"h":674.5,"l":667.5,"v":34.7},{"i":492,"o":668.7,"c":672.6,"h":673.5,"l":665,"v":37.8},{"i":493,"o":671.9,"c":675.8,"h":677,"l":670.5,"v":24.8},{"i":494,"o":676.4,"c":682.2,"h":683,"l":675,"v":31.9},{"i":495,"o":679,"c":681.6,"h":683,"l":677,"v":30.4},{"i":496,"o":678.4,"c":680.9,"h":682,"l":676.5,"v":26.7},{"i":497,"o":678.8,"c":680.1,"h":681,"l":676,"v":30},{"i":498,"o":680.3,"c":677.1,"h":681,"l":675,"v":25.4},{"i":499,"o":677.1,"c":679.7,"h":680.5,"l":675.5,"v":19.1},
{"i":500,"o":680.3,"c":684.8,"h":686,"l":679.5,"v":22.2},{"i":501,"o":685.5,"c":695.8,"h":696.5,"l":685,"v":28},{"i":502,"o":694.5,"c":697.1,"h":699,"l":692.5,"v":19.4},{"i":503,"o":697.7,"c":700.9,"h":702,"l":697,"v":18.4},{"i":504,"o":704,"c":707.3,"h":710.3,"l":701,"v":18.8},{"i":505,"o":705.5,"c":708.3,"h":711,"l":703,"v":17},{"i":506,"o":709.7,"c":706.4,"h":711.2,"l":705,"v":23.6},{"i":507,"o":707.8,"c":707,"h":708.5,"l":702.8,"v":28.3},{"i":508,"o":705.9,"c":706.7,"h":708,"l":704.5,"v":22.8},{"i":509,"o":706.7,"c":709.1,"h":710,"l":705.5,"v":24.3},
{"i":510,"o":709.1,"c":710.3,"h":712,"l":708,"v":24.3},{"i":511,"o":713.9,"c":723,"h":723.5,"l":711.8,"v":41.5},{"i":512,"o":721.2,"c":730.2,"h":732,"l":720.5,"v":46.2},{"i":513,"o":731.4,"c":736.5,"h":739.5,"l":726,"v":50.8},{"i":514,"o":737.2,"c":733.2,"h":738.5,"l":731,"v":43.6},{"i":515,"o":735.6,"c":738.9,"h":748,"l":731.5,"v":54},{"i":516,"o":702.5,"c":718.2,"h":728.4,"l":701,"v":55.7},{"i":517,"o":717.9,"c":719,"h":720.5,"l":710,"v":55.7},{"i":518,"o":717.6,"c":728.4,"h":729,"l":716.5,"v":52.9},{"i":519,"o":728.4,"c":744.6,"h":745.5,"l":728,"v":70.4},
{"i":520,"o":742.8,"c":757.3,"h":763.9,"l":740.5,"v":77},{"i":521,"o":762.7,"c":763.9,"h":766.5,"l":757,"v":60.9},{"i":522,"o":759.3,"c":764.8,"h":766.5,"l":757,"v":48.2},{"i":523,"o":763.6,"c":781.6,"h":782.5,"l":762,"v":38.7},{"i":524,"o":783.4,"c":789.4,"h":796.6,"l":781.5,"v":70.4},{"i":525,"o":788,"c":791.6,"h":792.5,"l":778,"v":59.7},{"i":526,"o":790.1,"c":805.6,"h":806.5,"l":788,"v":38.9},{"i":527,"o":810.2,"c":831.9,"h":836.3,"l":808,"v":87.2},{"i":528,"o":821,"c":784.1,"h":828.9,"l":783,"v":136.4},{"i":529,"o":785.9,"c":792.4,"h":805,"l":774.7,"v":112.5},
{"i":530,"o":795.2,"c":787.1,"h":801.3,"l":782.4,"v":66.2},{"i":531,"o":784.7,"c":779.9,"h":790.9,"l":777,"v":54.5},{"i":532,"o":782.8,"c":785.2,"h":794.9,"l":780,"v":43.6},{"i":533,"o":784.1,"c":780.1,"h":788.4,"l":779,"v":24.5},{"i":534,"o":784.3,"c":794.8,"h":799.7,"l":783,"v":19.6},{"i":535,"o":801.8,"c":803.6,"h":809.6,"l":797,"v":41.3},{"i":536,"o":803.2,"c":790.6,"h":810,"l":788.5,"v":56.5},{"i":537,"o":796,"c":788.2,"h":797.8,"l":777,"v":66.4},{"i":538,"o":790.4,"c":772.3,"h":792.5,"l":767.5,"v":60.7},{"i":539,"o":760.6,"c":767.9,"h":769,"l":755.7,"v":62.3},
{"i":540,"o":764.1,"c":761.2,"h":768,"l":760.5,"v":49.8},{"i":541,"o":750.7,"c":739.5,"h":751,"l":732.2,"v":74.4},{"i":542,"o":747.6,"c":752.5,"h":760,"l":745.5,"v":47.9},{"i":543,"o":743.4,"c":755.8,"h":759,"l":741,"v":28.5},{"i":544,"o":756.9,"c":754.3,"h":759,"l":752,"v":26.9},{"i":545,"o":760.3,"c":779.2,"h":780,"l":759,"v":39.4},{"i":546,"o":775.1,"c":780.1,"h":785.5,"l":773.5,"v":22.2},{"i":547,"o":775.1,"c":780.1,"h":781,"l":769.5,"v":26},{"i":548,"o":785.2,"c":777.1,"h":787,"l":776,"v":30},{"i":549,"o":778,"c":771.5,"h":781,"l":770,"v":24},
{"i":550,"o":768.9,"c":772.5,"h":773.5,"l":767,"v":21},{"i":551,"o":772.9,"c":763.9,"h":773.5,"l":759.5,"v":31},{"i":552,"o":773.5,"c":771.7,"h":776,"l":768,"v":26},{"i":553,"o":789.5,"c":783.1,"h":790.5,"l":781.5,"v":22},{"i":554,"o":783.4,"c":782.4,"h":785,"l":777,"v":33},{"i":555,"o":782.2,"c":783.7,"h":788,"l":780.5,"v":20},{"i":556,"o":785.9,"c":783.1,"h":787,"l":776.5,"v":24},{"i":557,"o":781.1,"c":774.5,"h":783,"l":767,"v":21},{"i":558,"o":773.8,"c":775,"h":776.5,"l":769,"v":33},{"i":559,"o":777.8,"c":777.4,"h":780,"l":773.5,"v":22},
{"i":560,"o":776.9,"c":785.2,"h":786.5,"l":775,"v":19},{"i":561,"o":786.8,"c":794.6,"h":801.2,"l":784.8,"v":23},{"i":562,"o":798.5,"c":792.2,"h":800,"l":791,"v":27},{"i":563,"o":792.8,"c":784.9,"h":793.5,"l":782,"v":22},{"i":564,"o":784.8,"c":785.5,"h":787.5,"l":783,"v":17},{"i":565,"o":786.7,"c":781,"h":789,"l":780.5,"v":16},{"i":566,"o":783.5,"c":778.3,"h":785,"l":776.5,"v":15},{"i":567,"o":776.5,"c":781.6,"h":784.3,"l":775,"v":19},{"i":568,"o":782.2,"c":771.5,"h":788,"l":769.5,"v":20},{"i":569,"o":769.9,"c":774.1,"h":775.5,"l":764.5,"v":17},
{"i":570,"o":771.9,"c":775.6,"h":776.5,"l":770,"v":18},{"i":571,"o":772.1,"c":766.3,"h":774.5,"l":764.5,"v":25},{"i":572,"o":764.5,"c":767.9,"h":769,"l":760.5,"v":19},{"i":573,"o":766.3,"c":776.2,"h":777,"l":765,"v":28},{"i":574,"o":781,"c":775.9,"h":782,"l":775,"v":20},{"i":575,"o":778.7,"c":781.7,"h":782.5,"l":777.5,"v":17},{"i":576,"o":773.8,"c":777.5,"h":779.5,"l":773,"v":16},{"i":577,"o":775.3,"c":771.3,"h":777,"l":769,"v":24},{"i":578,"o":771.3,"c":776.9,"h":778,"l":770,"v":22},{"i":579,"o":775.1,"c":766.5,"h":776,"l":765,"v":30},
{"i":580,"o":767.5,"c":773.5,"h":775,"l":766.5,"v":24},{"i":581,"o":773,"c":773.7,"h":776,"l":770.5,"v":19},{"i":582,"o":777.4,"c":781.3,"h":782,"l":776,"v":21},{"i":583,"o":777.1,"c":780.7,"h":782,"l":776,"v":27},{"i":584,"o":777.7,"c":776.4,"h":779.5,"l":775,"v":25.9},{"i":585,"o":774.4,"c":777.7,"h":778.5,"l":772.5,"v":37.8},{"i":586,"o":774.4,"c":778.3,"h":779,"l":772.5,"v":22.2},{"i":587,"o":777.7,"c":782.2,"h":783.5,"l":775,"v":21.7},{"i":588,"o":784.1,"c":788,"h":789,"l":781.5,"v":21.7},{"i":589,"o":787.3,"c":790.9,"h":794,"l":786,"v":28.5},
{"i":590,"o":791.2,"c":778.9,"h":792,"l":777.5,"v":33.2},{"i":591,"o":774.4,"c":778.9,"h":779.5,"l":773,"v":18.6},{"i":592,"o":773.1,"c":774.4,"h":775.5,"l":771,"v":25.6},{"i":593,"o":773.1,"c":771.2,"h":774,"l":769,"v":21.2},{"i":594,"o":769.9,"c":773.8,"h":775,"l":768.5,"v":21.7},{"i":595,"o":771.2,"c":772.5,"h":773.5,"l":768,"v":26.1},{"i":596,"o":769.9,"c":772.5,"h":773.5,"l":767.5,"v":18.6},{"i":597,"o":778.3,"c":781.5,"h":782.5,"l":777,"v":26.9},{"i":598,"o":782.2,"c":783.5,"h":785,"l":781,"v":19.1},{"i":599,"o":782.8,"c":784.7,"h":786.5,"l":781.5,"v":19.1},
{"i":600,"o":783.5,"c":786,"h":787.5,"l":782,"v":18.6},{"i":601,"o":786.7,"c":788.6,"h":790,"l":785,"v":25.2},{"i":602,"o":788,"c":779.6,"h":789,"l":778.5,"v":27.7},{"i":603,"o":777.7,"c":776.4,"h":779,"l":775,"v":19.4},{"i":604,"o":775.7,"c":777,"h":778,"l":774.5,"v":20.7},{"i":605,"o":777,"c":778.9,"h":780,"l":776,"v":15},{"i":606,"o":774.4,"c":777.7,"h":779,"l":773,"v":16},{"i":607,"o":775.7,"c":777,"h":778.5,"l":774.5,"v":12.7},{"i":608,"o":777.3,"c":774.4,"h":778,"l":773,"v":12.4},{"i":609,"o":776.4,"c":772.5,"h":777.5,"l":772,"v":15.3},
{"i":610,"o":777,"c":774.4,"h":778,"l":773,"v":12.9},{"i":611,"o":777,"c":773.1,"h":778,"l":772.5,"v":13.9},{"i":612,"o":772.5,"c":777,"h":778,"l":772,"v":22.5},{"i":613,"o":778.3,"c":781.5,"h":783,"l":772.8,"v":11.9},{"i":614,"o":779.6,"c":780.9,"h":782,"l":778.5,"v":13.4},{"i":615,"o":781.5,"c":783.5,"h":784.5,"l":780.5,"v":14.7},{"i":616,"o":782.8,"c":784.7,"h":786,"l":781.5,"v":14.7},{"i":617,"o":786,"c":791.28,"h":792.5,"l":784.8,"v":13}
],
"lines":[
{"a":-0.7,"b":525.5,"c":408.2,"d":573.3},{"a":156,"b":511.8,"c":544,"d":754.2},{"a":174,"b":433.7,"c":562,"d":675.8},{"a":-0.7,"b":408.2,"c":292.4,"d":482.7},{"a":100.8,"b":398.8,"c":193.2,"d":409.6},{"a":520.8,"b":816.1,"c":626.2,"d":781.2},{"a":542.8,"b":759.1,"c":620.2,"d":771.5},
{"a":170.8,"b":484.99,"c":276.2,"d":484.99},{"a":-0.7,"b":407.28,"c":266,"d":407.28},{"a":270.4,"b":583.83,"c":478,"d":583.83},{"a":279.4,"b":560.86,"c":397,"d":560.86},{"a":266.6,"b":544.01,"c":372,"d":544.01},{"a":462.8,"b":691.57,"c":522.2,"d":691.57},{"a":465.8,"b":671.28,"c":507,"d":671.28},{"a":509.8,"b":750.38,"c":578.2,"d":750.38}
],
"levels":[{"t":"484.99","i":278,"p":484.99},{"t":"407.28","i":268.4,"p":407.28},{"t":"583.83","i":480.6,"p":583.83},{"t":"560.86","i":399.6,"p":560.86},{"t":"544.01","i":374.6,"p":544.01},{"t":"691.57","i":524.2,"p":691.57},{"t":"671.28","i":509.4,"p":671.28},{"t":"750.38","i":580.6,"p":750.38}],
"frame":[
{"a":-0.7,"b":859.3,"c":734,"d":859.3},{"a":-0.7,"b":398.5,"c":734,"d":398.5},{"a":-0.7,"b":223.3,"c":734,"d":223.3},{"a":-0.5,"b":859.3,"c":-0.5,"d":223.3},{"a":734,"b":859.3,"c":734,"d":223.3},{"a":753.8,"b":871.5,"c":753.8,"d":210.3},{"a":755,"b":871.5,"c":755,"d":210.3},{"a":753.8,"b":871.3,"c":755,"d":871.3},
{"a":726,"b":790.9,"c":734,"d":790.9},{"a":729.8,"b":689.85,"c":734,"d":689.85},{"a":617,"b":406.8,"c":617,"d":398.5}
],
"contracts":[{"t":"沪金2306","i":16.8},{"t":"沪金2308","i":49.8},{"t":"沪金2310","i":92.8},{"t":"沪金2312","i":136},{"t":"沪金2402","i":171.8},{"t":"沪金2404","i":214.6},{"t":"沪金2406","i":252.6},{"t":"沪金2408","i":290.8},{"t":"沪金2410","i":337.4},{"t":"沪金2412","i":386.8},{"t":"沪金2502","i":426.8},{"t":"沪金2504","i":465},{"t":"沪金2506","i":505.8},{"t":"沪金2508","i":534.8},{"t":"沪金2510","i":571.8}],
"dates":[{"t":"2023/03/01","i":-0.6},{"t":"2023/08/01","i":98.4},{"t":"2024/01/02","i":201.4},{"t":"2024/06/03","i":299.4},{"t":"2024/11/01","i":400.4},{"t":"2025/04/01","i":500.4},{"t":"2025/08/30","i":604.4}],
"gray":[{"t":"836.30","i":526.8,"p":841.3},{"t":"588.28","i":280,"p":593.8}],
"axisTexts":[{"t":"800.00","i":734.8,"p":799.6},{"t":"600.00","i":734.8,"p":600},{"t":"100万","i":734.8,"p":341.7},{"t":"50万","i":734.8,"p":282.3}],
"heads":[{"t":"沪金主连(SHFE  2284)","i":9.4,"p":865.4,"k":"name"},{"t":"日线","i":60.4,"p":865.4,"k":"line"},{"t":"∨","i":70.6,"p":865.4,"k":"misc"},{"t":"791.28","i":77.4,"p":865.4,"k":"up"},{"t":"7.02 / 0.90%","i":97.2,"p":865.4,"k":"up"},{"t":"VOL ∨","i":1,"p":392.4,"k":"blue"},{"t":"130259.00(51:49)","i":17.6,"p":392.4,"k":"misc"},{"t":"618天","i":-0.4,"p":405,"k":"blue"}]
},
"resolve":{"scale":{"y":"independent"}},
"layer":[
{"layer":[
{"data":{"values":[{"a":514.6,"c":628,"b":790.6,"d":776.5}]},"mark":{"type":"rect","color":"#e0e0e0"},"encoding":{"x":{"field":"a","type":"quantitative","scale":{"domain":[-0.7,755.1],"nice":false,"zero":false}},"x2":{"field":"c"},"y":{"field":"b","type":"quantitative","scale":{"domain":[210.3,871.5],"nice":false,"zero":false}},"y2":{"field":"d"}}},
{"data":{"name":"bars"},"mark":{"type":"rule","strokeWidth":1},"encoding":{"x":{"field":"i","type":"quantitative"},"y":{"field":"l","type":"quantitative"},"y2":{"field":"h"},"color":{"condition":{"test":"datum.c<datum.o","value":"#000000"},"value":"#808080"}}},
{"data":{"name":"bars"},"mark":{"type":"bar","size":2,"strokeWidth":1},"encoding":{"x":{"field":"i","type":"quantitative"},"y":{"field":"o","type":"quantitative"},"y2":{"field":"c"},"fill":{"condition":{"test":"datum.c<datum.o","value":"#000000"},"value":"#808080"},"stroke":{"condition":{"test":"datum.c<datum.o","value":"#000000"},"value":"#808080"}}},
{"data":{"name":"frame"},"mark":{"type":"rule","color":"#808080","strokeWidth":2},"encoding":{"x":{"field":"a","type":"quantitative"},"x2":{"field":"c"},"y":{"field":"b","type":"quantitative"},"y2":{"field":"d"}}},
{"data":{"values":[{"i":730.2,"p":855.7}]},"mark":{"type":"point","shape":"M-1,-1L1,-1L1,1Z","size":400,"filled":true,"color":"#808080","opacity":1},"encoding":{"x":{"field":"i","type":"quantitative"},"y":{"field":"p","type":"quantitative"}}},
{"data":{"name":"contracts"},"mark":{"type":"rule","color":"#808080","strokeWidth":1,"strokeDash":[2,2]},"encoding":{"x":{"field":"i","type":"quantitative"},"y":{"datum":406.8,"type":"quantitative"},"y2":{"datum":398.5}}},
{"data":{"name":"contracts"},"mark":{"type":"text","align":"left","baseline":"middle","dx":0,"fontSize":24,"color":"#8c8c8c"},"encoding":{"x":{"field":"i","type":"quantitative"},"y":{"datum":402.8,"type":"quantitative"},"text":{"field":"t"}}},
{"data":{"name":"lines"},"mark":{"type":"rule","color":"#000000","strokeWidth":2.5},"encoding":{"x":{"field":"a","type":"quantitative"},"x2":{"field":"c"},"y":{"field":"b","type":"quantitative"},"y2":{"field":"d"}}},
{"data":{"name":"levels"},"mark":{"type":"text","align":"left","baseline":"middle","dy":2,"fontSize":25,"color":"#000000"},"encoding":{"x":{"field":"i","type":"quantitative"},"y":{"field":"p","type":"quantitative"},"text":{"field":"t"}}},
{"data":{"name":"gray"},"mark":{"type":"text","align":"center","baseline":"middle","fontSize":25,"color":"#808080"},"encoding":{"x":{"field":"i","type":"quantitative"},"y":{"field":"p","type":"quantitative"},"text":{"field":"t"}}},
{"data":{"name":"axisTexts"},"mark":{"type":"text","align":"left","baseline":"middle","fontSize":25,"color":"#808080"},"encoding":{"x":{"field":"i","type":"quantitative"},"y":{"field":"p","type":"quantitative"},"text":{"field":"t"}}},
{"data":{"name":"dates"},"mark":{"type":"text","align":"left","baseline":"middle","fontSize":26,"color":"#707070"},"encoding":{"x":{"field":"i","type":"quantitative"},"y":{"datum":216.5,"type":"quantitative"},"text":{"field":"t"}}},
{"data":{"values":[{"t":"⊂⊃","i":0.9,"p":865.4}]},"mark":{"type":"text","align":"left","baseline":"middle","fontSize":17,"fontWeight":"bold","font":"DejaVu Sans","color":"#000000"},"encoding":{"x":{"field":"i","type":"quantitative"},"y":{"field":"p","type":"quantitative"},"text":{"field":"t"}}},
{"data":{"name":"heads"},"mark":{"type":"text","align":"left","baseline":"middle","fontSize":24},"encoding":{"x":{"field":"i","type":"quantitative"},"y":{"field":"p","type":"quantitative"},"text":{"field":"t"},"color":{"field":"k","type":"nominal","scale":{"domain":["name","line","misc","up","blue"],"range":["#555f6a","#6b4a2b","#000000","#ff0000","#00008b"]}}}}
]},
{"layer":[
{"data":{"name":"bars"},"mark":{"type":"bar","size":2,"strokeWidth":1},"encoding":{"x":{"field":"i","type":"quantitative","scale":{"domain":[-0.7,755.1],"nice":false,"zero":false}},"y":{"field":"v","type":"quantitative","scale":{"domain":[-10.9,546.1],"nice":false,"zero":false}},"y2":{"datum":0},"fill":{"condition":{"test":"datum.c<datum.o","value":"#000000"},"value":"#ffffff"},"stroke":{"condition":{"test":"datum.c<datum.o","value":"#000000"},"value":"#808080"}}}
]},
{"layer":[
{"data":{"values":[{"i":520.6,"p":255.7}]},"mark":{"type":"point","shape":"M-0.5,-0.6C-0.9,0 -0.7,1 0,1C0.7,1 0.9,0.3 0.4,-0.1C0,-0.5 -0.2,-1 0.2,-1C0.7,-1 0.9,-0.1 0.5,0.6","size":17424,"filled":false,"color":"#9a9a9a","strokeWidth":20,"opacity":0.6},"encoding":{"x":{"field":"i","type":"quantitative","scale":{"domain":[-0.7,755.1],"nice":false,"zero":false}},"y":{"field":"p","type":"quantitative","scale":{"domain":[210.3,871.5],"nice":false,"zero":false}}}},
{"data":{"values":[{"i":520.6,"p":255.7}]},"mark":{"type":"point","shape":"M-0.5,-0.6C-0.9,0 -0.7,1 0,1C0.7,1 0.9,0.3 0.4,-0.1C0,-0.5 -0.2,-1 0.2,-1C0.7,-1 0.9,-0.1 0.5,0.6","size":17424,"filled":false,"color":"#f2f2f2","strokeWidth":13,"opacity":1},"encoding":{"x":{"field":"i","type":"quantitative"},"y":{"field":"p","type":"quantitative"}}},
{"data":{"values":[{"t":"雪球","i":539.4,"p":252.1}]},"mark":{"type":"text","align":"left","baseline":"middle","font":"Noto Sans CJK SC","fontWeight":"bold","fontSize":128,"fill":"#ffffff","stroke":"#9a9a9a","strokeWidth":3,"strokeOpacity":0.7},"encoding":{"x":{"field":"i","type":"quantitative"},"y":{"field":"p","type":"quantitative"},"text":{"field":"t"}}},
{"data":{"values":[{"t":":","i":592,"p":252.1}]},"mark":{"type":"text","align":"left","baseline":"middle","font":"Noto Sans CJK SC","fontSize":70,"fill":"#c8c8c8"},"encoding":{"x":{"field":"i","type":"quantitative"},"y":{"field":"p","type":"quantitative"},"text":{"field":"t"}}},
{"data":{"values":[{"t":"问道半亩方塘","i":608.4,"p":252.1}]},"mark":{"type":"text","align":"left","baseline":"middle","font":"Noto Sans CJK SC","fontSize":104,"fill":"#cfcfcf"},"encoding":{"x":{"field":"i","type":"quantitative"},"y":{"field":"p","type":"quantitative"},"text":{"field":"t"}}}
]}
]}
